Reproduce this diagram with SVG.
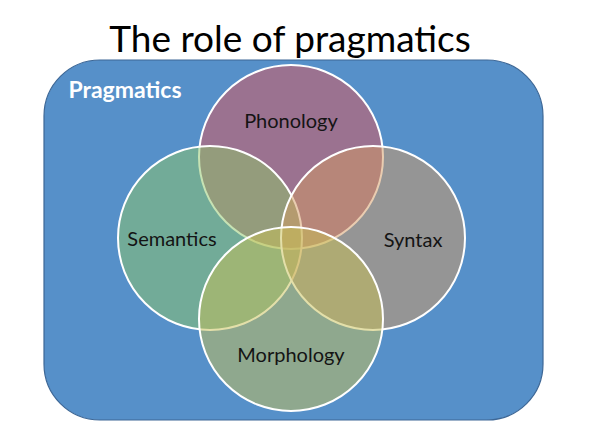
<svg xmlns="http://www.w3.org/2000/svg" width="602" height="439" viewBox="0 0 602 439">
<style>
.c{fill-opacity:0.5;stroke:#ffffff;stroke-width:2}
.lbl{font-family:Lato,"Liberation Sans",sans-serif;font-size:20px;fill:#141414;text-anchor:middle}
</style>
<rect width="602" height="439" fill="#ffffff"/>
<text x="290" y="52" font-family="Lato,'Liberation Sans',sans-serif" font-size="37" fill="#000000" text-anchor="middle">The role of pragmatics</text>
<g id="pragmatics">
<rect x="44" y="60" width="499" height="360" rx="56" ry="56" fill="#5690c9" stroke="#3d6796" stroke-width="1.2"/>
<text x="125" y="98" font-family="Lato,'Liberation Sans',sans-serif" font-size="23" font-weight="bold" fill="#ffffff" text-anchor="middle">Pragmatics</text>
</g>
<g id="phonology">
<circle class="c" cx="291" cy="157" r="92" fill="#e05457"/>
</g>
<g id="semantics">
<circle class="c" cx="210" cy="238" r="92" fill="#8ec667"/>
</g>
<g id="syntax">
<circle class="c" cx="373" cy="238" r="92" fill="#d49a61"/>
</g>
<g id="morphology">
<circle class="c" cx="291" cy="319" r="92" fill="#c8c053"/>
</g>
<g id="labels">
<text class="lbl" x="291" y="128">Phonology</text>
<text class="lbl" x="172" y="246">Semantics</text>
<text class="lbl" x="413" y="247">Syntax</text>
<text class="lbl" x="291" y="362">Morphology</text>
</g>
<g id="connectors"/>
</svg>
